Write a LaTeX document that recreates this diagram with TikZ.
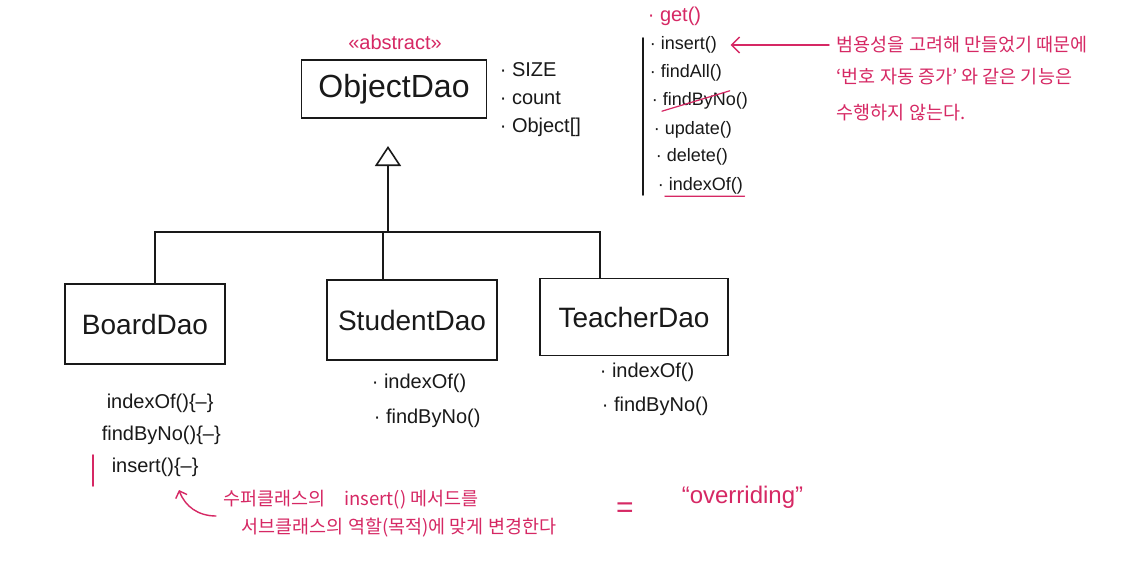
\documentclass[tikz,border=0pt]{standalone}
\usepackage{fontspec}
\setmainfont{Liberation Sans}
\newfontfamily\kr{Noto Sans CJK KR}
\usetikzlibrary{arrows.meta,positioning,calc}
\definecolor{pen}{RGB}{25,25,25}
\definecolor{marker}{RGB}{214,40,100}

\begin{document}
\begin{tikzpicture}[x=1pt,y=-1pt,line width=1.6pt,line cap=round,
	class/.style={draw=pen,inner sep=0pt,text=pen,font=\fontsize{28}{28}\selectfont},
	member/.style={anchor=west,text=pen,inner sep=1pt,font=\fontsize{18}{18}\selectfont},
	method/.style={member,font=\fontsize{20}{20}\selectfont},
	memo/.style={anchor=west,text=marker,inner sep=1pt,font=\kr\fontsize{18.5}{18.5}\selectfont},
	pinkarrow/.style={draw=marker,line width=1.4pt,-{Straight Barb[length=8pt,width=16pt]}},
	inherit/.style={draw=pen,-{Triangle[open,length=20pt,width=26pt,line width=1.6pt]}}]
	\useasboundingbox[fill=white] (0,0) rectangle (1122,562);
	
	% abstract parent
	\node[class,minimum width=185pt,minimum height=58pt,font=\fontsize{32}{32}\selectfont] (obj) at (394,89) {ObjectDao};
	\node[text=marker,font=\fontsize{20}{20}\selectfont] (stereo) at (395,42) {«abstract»};
	\node[member,font=\fontsize{20}{20}\selectfont] (size) at (498,70) {· SIZE};
	\node[member,font=\fontsize{20}{20}\selectfont] (count) at (498,98) {· count};
	\node[member,font=\fontsize{20}{20}\selectfont] (objarr) at (498,127) {· Object[]};
	
	% sub classes
	\node[class,minimum width=160pt,minimum height=80pt] (board) at (145,324) {BoardDao};
	\node[class,minimum width=170pt,minimum height=80pt] (student) at (412,320) {StudentDao};
	\node[class,minimum width=188pt,minimum height=77pt] (teacher) at (634,317) {TeacherDao};
	
	\coordinate (apex) at (388,146);
	\coordinate (hub) at (388,232);
	\draw[inherit] (hub) -- (apex);
	\draw[draw=pen] ([xshift=10pt]board.north) |- (hub) -| ([xshift=-34pt]teacher.north);
	\draw[draw=pen] ([xshift=-29pt]student.north) -- ([xshift=-29pt]student.north |- hub);
	
	% methods
	\node[method] (b1) at (105,403) {indexOf()\{–\}};
	\node[method] (b2) at (100,435) {findByNo()\{–\}};
	\node[method] (b3) at (110,467) {insert()\{–\}};
	\draw[draw=marker] (93,455) -- (93,486);
	\node[method] (s1) at (370,383) {· indexOf()};
	\node[method] (s2) at (372,418) {· findByNo()};
	\node[method] (t1) at (598,372) {· indexOf()};
	\node[method] (t2) at (600,406) {· findByNo()};
	
	% method list of ObjectDao
	\node[member,text=marker,font=\fontsize{20}{20}\selectfont] (get) at (646,16) {· get()};
	\draw[draw=pen] (643,38) -- (643,195);
	\node[member] (r1) at (648,45) {· insert()};
	\node[member] (r2) at (648,73) {· findAll()};
	\node[member] (r3) at (650,101) {· findByNo()};
	\node[member] (r4) at (652,130) {· update()};
	\node[member] (r5) at (654,157) {· delete()};
	\node[member] (r6) at (656,186) {· indexOf()};
	\draw[draw=marker,line width=1.2pt] ($(r3.south west)!0.12!(r3.south east)$) -- ($(r3.north west)!0.8!(r3.north east)$);
	\draw[draw=marker,line width=1.2pt] ($(r6.south west)!0.1!(r6.south east)$) -- (r6.south east);
	
	\node[memo] (n1) at (835,45) {범용성을 고려해 만들었기 때문에};
	\node[memo] (n2) at (835,77) {‘번호 자동 증가’ 와 같은 기능은};
	\node[memo] (n3) at (835,113) {수행하지 않는다.};
	\draw[pinkarrow] ([xshift=-6pt]n1.west) -- ([xshift=12pt]r1.east);
	
	% overriding note
	\node[memo] (m1) at (222,500) {수퍼클래스의\quad insert() 메서드를};
	\node[memo] (m2) at (240,528) {서브클래스의 역할(목적)에 맞게 변경한다};
	\node[text=marker,font=\fontsize{30}{30}\selectfont] (eq) at (625,510) {=};
	\node[memo,font=\fontsize{24}{24}\selectfont] (over) at (680,497) {“overriding”};
	\coordinate (tail) at (216,516);
	\coordinate (tip) at (179,490);
	\draw[pinkarrow,-{Straight Barb[length=6pt,width=12pt]}] (tail) to[bend left=35] (tip);
\end{tikzpicture}
\end{document}
